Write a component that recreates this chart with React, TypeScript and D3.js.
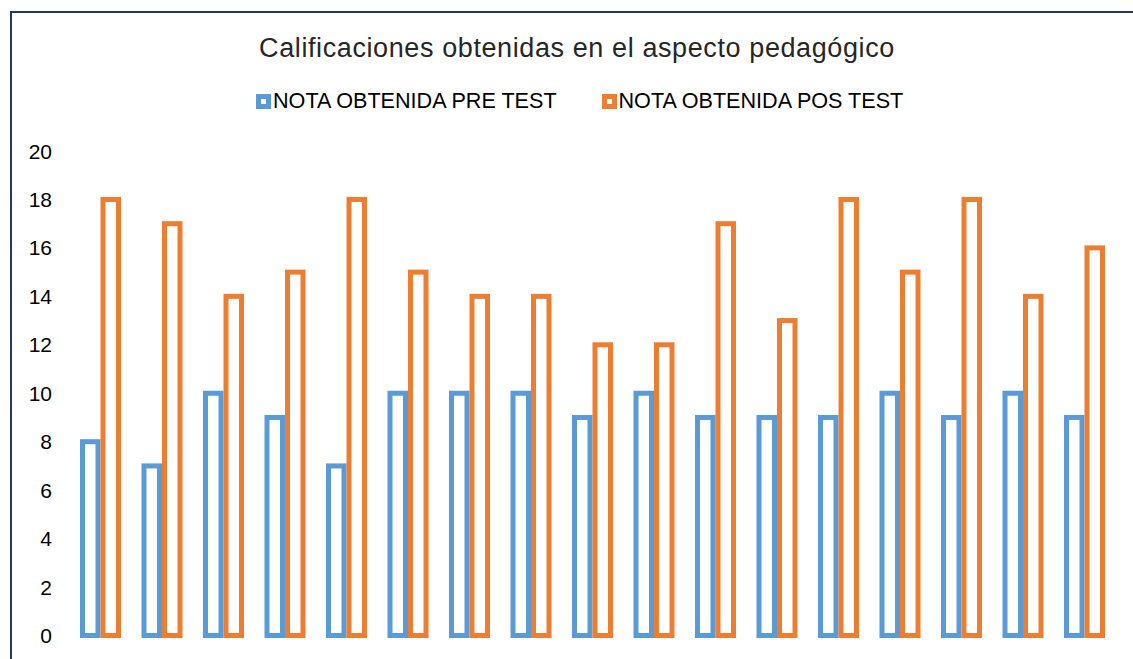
import React, { useEffect } from 'react'
import * as d3 from 'd3'

const width = 1133
const height = 659

const groups = d3.range(1, 18).map(String)
const preTest = [8, 7, 10, 9, 7, 10, 10, 10, 9, 10, 9, 9, 9, 10, 9, 10, 9]
const posTest = [18, 17, 14, 15, 18, 15, 14, 14, 12, 12, 17, 13, 18, 15, 18, 14, 16]
const yTicks = [0, 2, 4, 6, 8, 10, 12, 14, 16, 18, 20]
const seriesNames = ['NOTA OBTENIDA PRE TEST', 'NOTA OBTENIDA POS TEST']
const colors = ['#5B9BD5', '#ED7D31']

const font = 'Arial, "Liberation Sans", sans-serif'
const sw = 5

const App = () => {
    useEffect(() => {
        document.body.style.margin = '0'
        document.body.style.overflow = 'hidden'
    }, [])

    const x0 = d3
        .scaleBand()
        .domain(groups)
        .range([59.5, 1125.5])
        .paddingInner(1 / 3)
        .paddingOuter(1 / 3)
    const x1 = d3
        .scaleBand()
        .domain(['pre', 'pos'])
        .range([0, x0.bandwidth()])
    const y = d3.scaleLinear().domain([0, 20]).range([635.5, 151])

    const series = [preTest, posTest]
    const keys = ['pre', 'pos']
    const legendX = [[256, 273], [602, 618.5]]

    return (
        <svg width={width} height={height} style={{ display: 'block' }}>
            <rect x={0} y={0} width={width} height={height} fill="#fff" />
            <rect
                x={11}
                y={12}
                width={1300}
                height={900}
                fill="#fff"
                stroke="#1F3864"
                strokeWidth={2}
            />
            <text
                x={577}
                y={57}
                textAnchor="middle"
                fontFamily={font}
                fontSize={27}
                letterSpacing={0.6}
                fill="#262626"
            >
                Calificaciones obtenidas en el aspecto pedagógico
            </text>
            {/* legend */}
            {seriesNames.map((name, i) => (
                <g key={name}>
                    <rect
                        x={legendX[i][0] + sw / 2}
                        y={94 + sw / 2}
                        width={15 - sw}
                        height={15 - sw}
                        fill="#fff"
                        stroke={colors[i]}
                        strokeWidth={sw}
                    />
                    <text
                        x={legendX[i][1]}
                        y={108}
                        fontFamily={font}
                        fontSize={21.6}
                        fill="#000"
                    >
                        {name}
                    </text>
                </g>
            ))}
            {/* y axis labels */}
            {yTicks.map((t) => (
                <text
                    key={t}
                    x={52}
                    y={y(t)}
                    dy="0.36em"
                    textAnchor="end"
                    fontFamily={font}
                    fontSize={21}
                    fill="#000"
                >
                    {t}
                </text>
            ))}
            {/* bars */}
            {groups.map((g, gi) => (
                <g key={g} transform={`translate(${x0(g)},0)`}>
                    {series.map((vals, si) => (
                        <rect
                            key={si}
                            x={x1(keys[si]) + sw / 2}
                            y={y(vals[gi])}
                            width={x1.bandwidth() - sw}
                            height={y(0) - y(vals[gi])}
                            fill="#fff"
                            stroke={colors[si]}
                            strokeWidth={sw}
                        />
                    ))}
                </g>
            ))}
        </svg>
    )
}

export default App
